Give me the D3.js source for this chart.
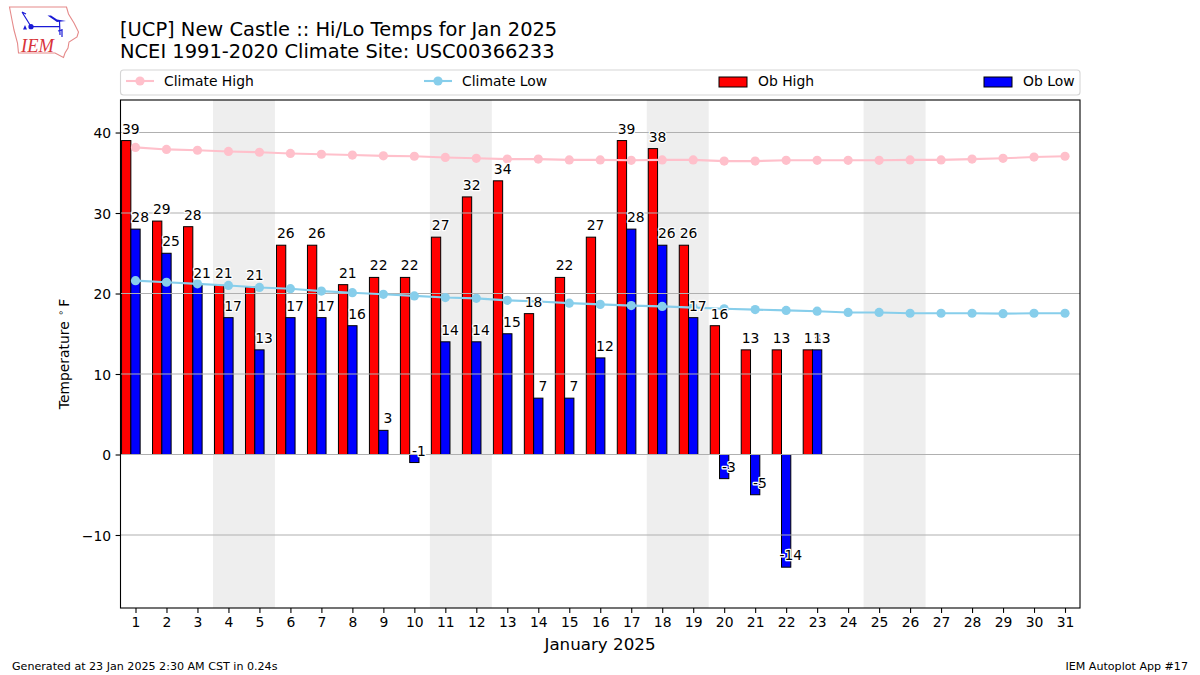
<!DOCTYPE html>
<html>
<head>
<meta charset="utf-8">
<script src="https://cdn.jsdelivr.net/npm/d3@7"></script>
<style>
html, body { margin: 0; padding: 0; background: #fff; }
svg { display: block; }
text { font-family: "DejaVu Sans", sans-serif; fill: #000; }
</style>
</head>
<body>
<div id="chart"></div>
<script>
var days = d3.range(1, 32);
var obHigh = [39, 29, 28.3, 21, 20.8, 26, 26, 21.1, 22, 22, 27, 32, 34, 17.5, 22, 27, 39, 38, 26, 16, 13, 13, 13];
var obLow = [28, 25, 21, 17, 13, 17, 17, 16, 3, -1, 14, 14, 15, 7, 7, 12, 28, 26, 17, -3, -5, -14, 13];
var climateHigh = [38.15, 37.9, 37.8, 37.65, 37.55, 37.4, 37.3, 37.2, 37.1, 37.05, 36.9, 36.8, 36.7, 36.7, 36.6, 36.6, 36.55, 36.6, 36.6, 36.45, 36.45, 36.55, 36.55, 36.55, 36.55, 36.6, 36.6, 36.7, 36.8, 36.95, 37.05];
var climateLow = [21.6, 21.4, 21.2, 21.0, 20.75, 20.6, 20.3, 20.1, 19.9, 19.7, 19.5, 19.4, 19.15, 19.0, 18.8, 18.65, 18.5, 18.4, 18.25, 18.1, 18.0, 17.9, 17.8, 17.65, 17.65, 17.55, 17.55, 17.55, 17.5, 17.55, 17.55];
var weekends = [[4, 5], [11, 12], [18, 19], [25, 26]];
var yTicks = [-10, 0, 10, 20, 30, 40];
var titleLines = ["[UCP] New Castle :: Hi/Lo Temps for Jan 2025", "NCEI 1991-2020 Climate Site: USC00366233"];

var margin = {top: 100, right: 120, bottom: 67, left: 120.5},
	width = 1200 - margin.left - margin.right,
	height = 675 - margin.top - margin.bottom;

var svg = d3.select("#chart").append("svg")
	.attr("width", 1200)
	.attr("height", 675);

var g = svg.append("g")
	.attr("transform", "translate(" + margin.left + "," + margin.top + ")");

var x = d3.scaleLinear().domain([0.516, 31.484]).range([0, width]);
var y = d3.scaleLinear().domain([-19.07, 44.04]).range([height, 0]);

// weekend shading
g.selectAll(".weekend")
	.data(weekends)
	.enter().append("rect")
	.attr("class", "weekend")
	.attr("x", function(d){ return x(d[0] - 0.5); })
	.attr("width", function(d){ return x(d[1] + 0.5) - x(d[0] - 0.5); })
	.attr("y", 0)
	.attr("height", height)
	.style("fill", "#eeeeee");

// bars
function drawBars(values, offset, color){
	g.selectAll(".bar" + color)
		.data(values)
		.enter().append("rect")
		.attr("class", "bar" + color)
		.attr("x", function(d, i){ return x(days[i] + offset); })
		.attr("width", x(1.3) - x(1))
		.attr("y", function(d){ return Math.min(y(d), y(0)); })
		.attr("height", function(d){ return Math.abs(y(d) - y(0)); })
		.style("fill", color)
		.style("stroke", "#000")
		.style("stroke-width", 1);
}
drawBars(obHigh, -0.45, "red");
drawBars(obLow, -0.15, "blue");

// grid sits on top of the bars
g.selectAll(".grid")
	.data(yTicks)
	.enter().append("line")
	.attr("class", "grid")
	.attr("x1", 0)
	.attr("x2", width)
	.attr("y1", function(d){ return y(d); })
	.attr("y2", function(d){ return y(d); })
	.style("stroke", "#b0b0b0")
	.style("stroke-width", 1.1);

// climate lines
function drawClimate(values, color){
	var line = d3.line()
		.x(function(d, i){ return x(days[i]); })
		.y(function(d){ return y(d); });
	g.append("path")
		.attr("d", line(values))
		.style("fill", "none")
		.style("stroke", color)
		.style("stroke-width", 2.1);
	g.selectAll(".pt" + color)
		.data(values)
		.enter().append("circle")
		.attr("class", "pt" + color)
		.attr("cx", function(d, i){ return x(days[i]); })
		.attr("cy", function(d){ return y(d); })
		.attr("r", 4.6)
		.style("fill", color);
}
drawClimate(climateHigh, "pink");
drawClimate(climateLow, "skyblue");

// value labels
function drawLabels(values, offset, name){
	g.selectAll("." + name)
		.data(values)
		.enter().append("text")
		.attr("class", name)
		.attr("x", function(d, i){ return x(days[i] + offset); })
		.attr("y", function(d){ return y(d) - 7; })
		.attr("text-anchor", "middle")
		.style("font-size", "13.9px")
		.style("paint-order", "stroke")
		.style("stroke", "#fff")
		.style("stroke-width", 2.5)
		.style("stroke-linejoin", "round")
		.text(function(d){ return Math.round(d); });
}
drawLabels(obHigh, -0.15, "lblHigh");
drawLabels(obLow, 0.15, "lblLow");

// frame and axes
g.append("rect")
	.attr("width", width)
	.attr("height", height)
	.style("fill", "none")
	.style("stroke", "#000")
	.style("stroke-width", 1.1);

var xAxis = g.append("g")
	.attr("transform", "translate(0," + height + ")")
	.call(d3.axisBottom(x).tickValues(days).tickFormat(d3.format("d")).tickSize(4.9).tickPadding(4.5));
var yAxis = g.append("g")
	.call(d3.axisLeft(y).tickValues(yTicks).tickFormat(function(d){ return d < 0 ? "\u2212" + (-d) : d; }).tickSize(4.9).tickPadding(4.5));
[xAxis, yAxis].forEach(function(a){
	a.select(".domain").remove();
	a.selectAll("line").style("stroke", "#000").style("stroke-width", 1.1);
	a.selectAll("text").style("font-size", "13.9px").style("font-family", '"DejaVu Sans", sans-serif');
});
yAxis.selectAll("text").attr("dy", "0.38em");

svg.append("text")
	.attr("x", 600)
	.attr("y", 650)
	.attr("text-anchor", "middle")
	.style("font-size", "16.7px")
	.text("January 2025");

var yLabel = svg.append("text")
	.attr("transform", "translate(69,354) rotate(-90)")
	.attr("text-anchor", "middle")
	.style("font-size", "13.9px");
yLabel.append("tspan").text("Temperature ");
yLabel.append("tspan").attr("dx", 1).attr("dy", -5).style("font-size", "9.7px").text("\u2218");
yLabel.append("tspan").attr("dx", 3).attr("dy", 5).text("F");

// title
svg.selectAll(".title")
	.data(titleLines)
	.enter().append("text")
	.attr("class", "title")
	.attr("x", 120)
	.attr("y", function(d, i){ return 36 + i * 22; })
	.style("font-size", "19.45px")
	.text(function(d){ return d; });

// legend
var legend = svg.append("g");
legend.append("rect")
	.attr("x", 120.5)
	.attr("y", 70)
	.attr("width", 959.5)
	.attr("height", 25)
	.attr("rx", 3)
	.style("fill", "#fff")
	.style("stroke", "#d5d5d5")
	.style("stroke-width", 1.1);

function legendLine(x0, color, label){
	legend.append("line")
		.attr("x1", x0).attr("x2", x0 + 28)
		.attr("y1", 81).attr("y2", 81)
		.style("stroke", color).style("stroke-width", 2.1);
	legend.append("circle")
		.attr("cx", x0 + 14).attr("cy", 81).attr("r", 4.6)
		.style("fill", color);
	legend.append("text")
		.attr("x", x0 + 38).attr("y", 86)
		.style("font-size", "13.9px")
		.text(label);
}
function legendBar(x0, color, label){
	legend.append("rect")
		.attr("x", x0).attr("y", 77)
		.attr("width", 28).attr("height", 10)
		.style("fill", color).style("stroke", "#000").style("stroke-width", 1);
	legend.append("text")
		.attr("x", x0 + 39).attr("y", 86)
		.style("font-size", "13.9px")
		.text(label);
}
legendLine(126, "pink", "Climate High");
legendLine(424, "skyblue", "Climate Low");
legendBar(719, "red", "Ob High");
legendBar(984, "blue", "Ob Low");

// footer
svg.append("text")
	.attr("x", 12)
	.attr("y", 670)
	.style("font-size", "11.1px")
	.text("Generated at 23 Jan 2025 2:30 AM CST in 0.24s");
svg.append("text")
	.attr("x", 1188)
	.attr("y", 670)
	.attr("text-anchor", "end")
	.style("font-size", "11.1px")
	.text("IEM Autoplot App #17");

// logo
var logo = svg.append("g");
logo.append("path")
	.attr("d", "M9.5,7 L66.5,7 L68.5,14 L74,23 L78.5,32 L77,37 L69,42 L68,48 L65,53 L63.5,57.5 L55,53 L18.5,53 L17.5,43 L14,30 L12,20 Z")
	.style("fill", "#fff")
	.style("stroke", "#e58a8a")
	.style("stroke-width", 1.1);
logo.append("path")
	.attr("d", "M31,26.7 L60,26.7 M59.5,21 L60,35 M31,26.5 L22,12 M22,12 L26,14 M62,29 L62,37 M58,31 L62,30")
	.style("fill", "none")
	.style("stroke", "#1a1ad6")
	.style("stroke-width", 1.2);
logo.append("path")
	.attr("d", "M47.5,15.5 L51,15.5 L57,19.5 L66,21 L57,22 Z")
	.style("fill", "#1a1ad6");
logo.append("circle")
	.attr("cx", 31).attr("cy", 26.7).attr("r", 2.6)
	.style("fill", "#1a1ad6");
logo.append("path")
	.attr("d", "M23,29.5 L25,25 L27,29.5 Z")
	.style("fill", "#1a1ad6");
logo.append("text")
	.attr("x", 21)
	.attr("y", 51.5)
	.style("font-family", '"Liberation Serif", serif')
	.style("font-style", "italic")
	.style("font-size", "18.5px")
	.style("fill", "#d8343a")
	.text("IEM");
</script>
</body>
</html>
